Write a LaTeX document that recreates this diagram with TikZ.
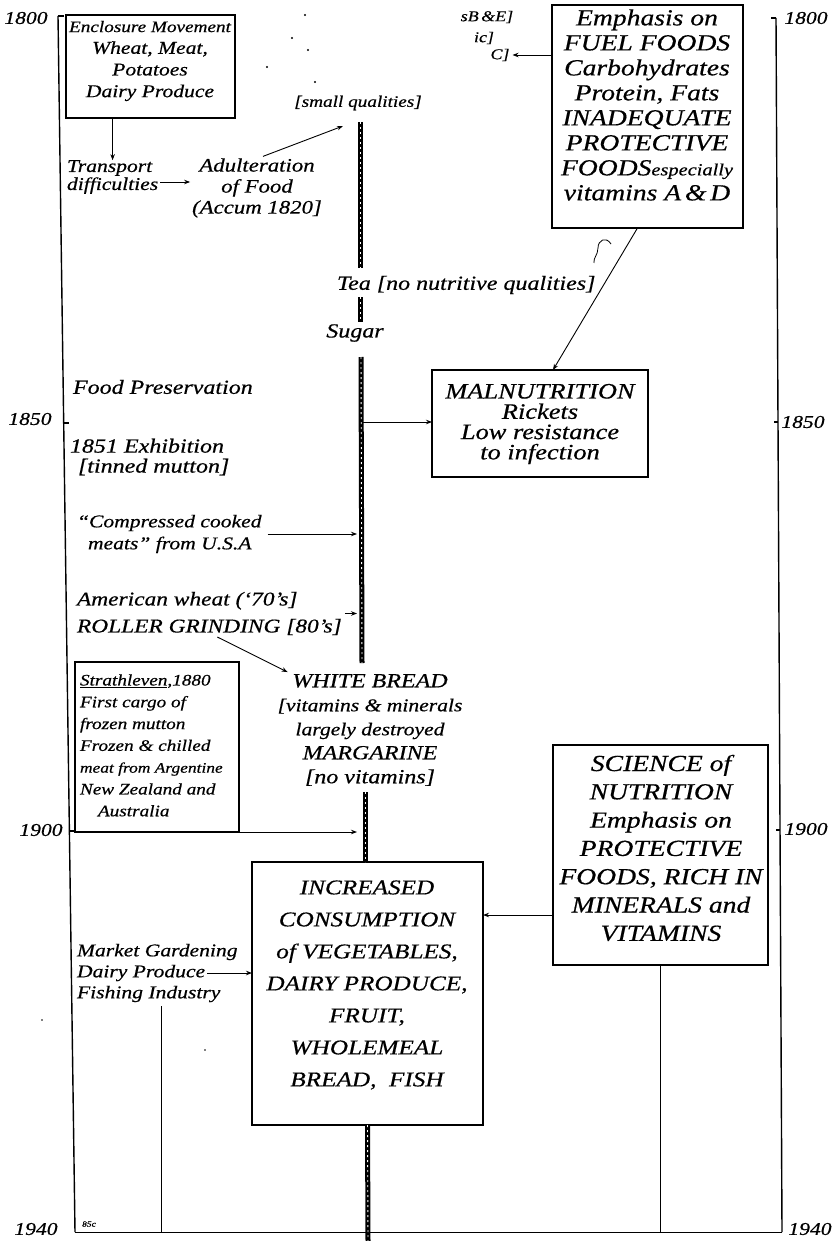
\documentclass[tikz,border=0pt]{standalone}
\usepackage{fontspec}
\newfontfamily\handfont{Liberation Serif}[FakeStretch=1.2,FakeBold=0.5]
\usetikzlibrary{arrows.meta,calc}
\newcommand{\HS}[2]{\handfont\itshape\fontsize{#1}{#2}\selectfont}
\newcommand{\ctl}[2]{\draw[cl] (#1) -- (#2); \draw[clin] (#1) -- (#2);}
\begin{document}
\begin{tikzpicture}[x=1pt,y=-1pt,
  hand/.style={inner sep=0pt, outer sep=0pt},
  box/.style={draw, line width=1.1pt, inner sep=0pt, outer sep=0pt},
  arr/.style={-{Stealth[length=6pt,width=4.5pt]}, line width=0.9pt},
  ln/.style={line width=1pt},
  axisln/.style={line width=1.4pt},
  cl/.style={line width=5pt},
  clin/.style={white, line width=0.9pt, dash pattern=on 2pt off 3pt},
  year/.style={hand, font=\HS{18}{18}},
  speck/.style={fill=black, inner sep=0pt, minimum size=2.4pt, circle}
]
\fill[white] (0,0) rectangle (836,1241);
\useasboundingbox (0,0) rectangle (836,1241);

% ---------- axes ----------
\coordinate (L0) at (58,16);
\coordinate (L1) at (75,1232);
\coordinate (R0) at (776,18);
\coordinate (R1) at (782,1232);
\coordinate (pb) at (368,1241);
\draw[axisln] (L0) -- (L1);
\draw[axisln] (R0) -- (R1);
\draw[ln] (L1) -- (R1);
\draw[axisln] (L0) -- ++(6,0);
\draw[axisln] (63.7,423) -- ++(5,0);
\draw[axisln] (69.4,831) -- ++(6,0);
\draw[axisln] (R0) -- ++(-5,0);
\draw[axisln] (778,422) -- ++(-4,0);
\draw[axisln] (780,830) -- ++(-4,0);

\node[year] (yl1800) at (26,18) {1800};
\node[year] (yl1850) at (30,419) {1850};
\node[year] (yl1900) at (41,830) {1900};
\node[year] (yl1940) at (36,1229) {1940};
\node[year] (yr1800) at (806,18) {1800};
\node[year] (yr1850) at (803,422) {1850};
\node[year] (yr1900) at (806,829) {1900};
\node[year] (yr1940) at (810,1229) {1940};
\node[hand, font=\HS{8}{8}] (y85) at (89,1224) {85c};

% ---------- boxes ----------
\node[box, minimum width=169pt, minimum height=103pt] (encl) at (150.5,66.5) {};
\node[box, minimum width=191pt, minimum height=223pt] (fuel) at (647.5,116.5) {};
\node[box, minimum width=216pt, minimum height=107pt] (mal) at (540,423.5) {};
\node[box, minimum width=164pt, minimum height=170pt] (strath) at (157,747) {};
\node[box, minimum width=231pt, minimum height=263pt] (inc) at (367.5,993.5) {};
\node[box, minimum width=215pt, minimum height=220pt] (sci) at (660.5,855) {};

% ---------- texts ----------
\node[hand, align=center, font=\HS{18}{21.7}] (encltxt) at (150,61)
  {{\fontsize{16}{21.7}\selectfont Enclosure Movement}\\Wheat, Meat,\\Potatoes\\Dairy Produce};
\node[hand, align=left, anchor=west, font=\HS{18}{18}] (trans) at (67,177) {Transport\\difficulties};
\node[hand, align=center, font=\HS{19}{21}] (adul) at (257,188) {Adulteration\\of Food\\(Accum 1820]};
\node[hand, font=\HS{16}{16}] (smallq) at (358,103) {[small qualities]};

\node[hand, font=\HS{15}{15}] (frB) at (487,17) {sB\,\&E]};
\node[hand, font=\HS{15}{15}] (frI) at (484,38) {ic]};
\node[hand, font=\HS{15}{15}] (frC) at (500,55) {C]};

\node[hand, align=center, font=\HS{23}{25}] (fueltxt) at (647,105)
  {Emphasis on\\FUEL FOODS\\Carbohydrates\\Protein, Fats\\INADEQUATE\\PROTECTIVE\\FOODS{\fontsize{17}{25}\selectfont especially}\\vitamins A\,\&\,D};

\node[hand, anchor=west, font=\HS{20}{20}] (tea) at (337,285) {Tea [no nutritive qualities]};
\node[hand, font=\HS{20}{20}] (sugar) at (355,333) {Sugar};
\node[hand, anchor=west, font=\HS{20}{20}] (pres) at (73,387) {Food Preservation};
\node[hand, anchor=west, align=left, font=\HS{20}{20}] (exh) at (70,457) {1851 Exhibition\\\hspace*{8pt}[tinned mutton]};

\node[hand, align=center, font=\HS{22}{20.3}] (maltxt) at (540,424)
  {MALNUTRITION\\Rickets\\Low resistance\\to infection};

\node[hand, anchor=west, align=left, font=\HS{18}{22}] (cmp) at (77,534)
  {“Compressed cooked\\\hspace*{11pt}meats” from U.S.A};
\node[hand, anchor=west, align=left, font=\HS{19.5}{27}] (amw) at (77,613.5)
  {American wheat (‘70’s]\\ROLLER GRINDING [80’s]};

\node[hand, anchor=west, align=left, font=\HS{16}{21.8}] (strtxt) at (80,745.4)
  {\underline{Strathleven},1880\\First cargo of\\frozen mutton\\Frozen \& chilled\\{\fontsize{14.5}{21.8}\selectfont meat from Argentine}\\New Zealand and\\\hspace*{18pt}Australia};

\node[hand, align=center, font=\HS{20}{24}] (wb) at (370,730)
  {WHITE BREAD\\{\fontsize{18}{24}\selectfont [vitamins \& minerals}\\{\fontsize{18}{24}\selectfont largely destroyed}\\MARGARINE\\{}[no vitamins]};

\node[hand, align=center, font=\HS{21}{32}] (inctxt) at (367,985)
  {INCREASED\\CONSUMPTION\\of VEGETABLES,\\DAIRY PRODUCE,\\FRUIT,\\WHOLEMEAL\\BREAD,\ \ FISH};

\node[hand, align=center, font=\HS{23}{28.3}] (scitxt) at (661,848)
  {SCIENCE of\\NUTRITION\\Emphasis on\\PROTECTIVE\\FOODS, RICH IN\\MINERALS and\\VITAMINS};

\node[hand, anchor=west, font=\HS{18}{18}] (market) at (77,952) {Market Gardening};
\node[hand, anchor=west, font=\HS{18}{18}] (dairy) at (77,973) {Dairy Produce};
\node[hand, anchor=west, font=\HS{18}{18}] (fishing) at (77,994) {Fishing Industry};

% specks
\node[speck] (s1) at (305,15) {};
\node[speck] (s2) at (292,38) {};
\node[speck] (s3) at (308,50) {};
\node[speck] (s4) at (267,67) {};
\node[speck] (s5) at (315,82) {};
\node[speck, minimum size=1.8pt] (s6) at (42,1020) {};
\node[speck, minimum size=1.8pt] (s7) at (205,1050) {};

% ---------- central time line ----------
\coordinate (c1a) at (360,122);
\coordinate (c1b) at (360,268);
\coordinate (c2a) at (360,297);
\coordinate (c2b) at (360,322);
\coordinate (c3a) at (361,357);
\coordinate (c3b) at (362,663);
\coordinate (c4a) at (365,792);
\coordinate (clx) at (357,0);
\coordinate (sqin) at (343,126);
\coordinate (c3m) at (363,422);
\ctl{c1a}{c1b}
\ctl{c2a}{c2b}
\ctl{c3a}{c3b}
\ctl{c4a}{c4a |- inc.north}
\ctl{inc.south}{pb}

% ---------- connectors ----------
\draw[arr] (encl.south -| trans.north) -- (trans.north);
\draw[arr, shorten <=2pt, shorten >=2pt] ([yshift=-5pt]trans.east) -- ([yshift=-5pt]trans.east -| adul.west);
\draw[arr] ([xshift=6pt,yshift=2pt]adul.north) -- (sqin);
\draw[arr, shorten >=3pt] (fuel.west |- frC) -- (frC.east);
\draw[arr] ([xshift=-10pt]fuel.south) -- ([xshift=13pt]mal.north);
\draw[arr] (c3m) -- (c3m -| mal.west);
\draw[arr, shorten <=6pt] (cmp.east) -- (cmp.east -| clx);
\draw[arr, shorten <=3pt] (amw.east) -- (amw.east -| clx);
\draw[arr] ([xshift=8pt,yshift=-2pt]amw.south) -- ([xshift=10pt,yshift=2pt]wb.north west);
\draw[arr] (strath.south east) -- (strath.south east -| clx);
\coordinate (sciarr) at ($(sci.west)+(0,60)$);
\draw[arr] (sciarr) -- (sciarr -| inc.east);
\draw[arr, shorten <=2pt] (dairy.east) -- (dairy.east -| inc.west);
\coordinate (fl) at ([xshift=13pt,yshift=-4pt]fishing.south);
\draw[ln] (fl) -- (fl |- L1);
\draw[ln] (sci.south) -- (sci.south |- L1);
\draw[line width=0.8pt] (611,244) .. controls (606,236) and (598,240) .. (598,248) .. controls (598,255) and (593,258) .. (594,263);
\end{tikzpicture}
\end{document}
